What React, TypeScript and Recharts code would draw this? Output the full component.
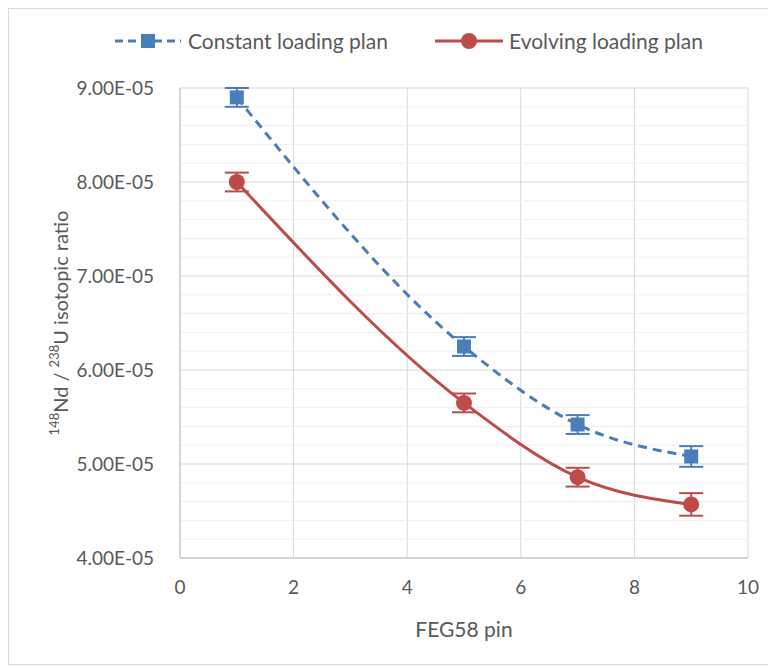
import React from 'react';
import {
  ComposedChart,
  Line,
  XAxis,
  YAxis,
  CartesianGrid,
  ErrorBar,
  ReferenceLine,
} from 'recharts';

const pins = [1, 5, 7, 9];
const constantPlan = [8.9e-5, 6.25e-5, 5.42e-5, 5.08e-5];
const constantErr = [1.0e-6, 1.0e-6, 1.0e-6, 1.1e-6];
const evolvingPlan = [8.0e-5, 5.65e-5, 4.86e-5, 4.57e-5];
const evolvingErr = [1.0e-6, 1.0e-6, 1.0e-6, 1.2e-6];

const xTicks = [0, 2, 4, 6, 8, 10];
const yTicks = [4e-5, 5e-5, 6e-5, 7e-5, 8e-5, 9e-5];
const yMinor = [
  4.2e-5, 4.4e-5, 4.6e-5, 4.8e-5,
  5.2e-5, 5.4e-5, 5.6e-5, 5.8e-5,
  6.2e-5, 6.4e-5, 6.6e-5, 6.8e-5,
  7.2e-5, 7.4e-5, 7.6e-5, 7.8e-5,
  8.2e-5, 8.4e-5, 8.6e-5, 8.8e-5,
];

const BLUE = '#4a7ebb';
const RED = '#be4b48';
const FONT = 'Lato, "Open Sans", sans-serif';
const TEXT = '#595959';

const data = pins.map((x, i) => ({
  x,
  constant: constantPlan[i],
  constantErr: constantErr[i],
  evolving: evolvingPlan[i],
  evolvingErr: evolvingErr[i],
}));

const fmtSci = (v: number) => {
  const [m, e] = v.toExponential(2).split('e');
  const n = parseInt(e, 10);
  return `${m}E${n < 0 ? '-' : '+'}${String(Math.abs(n)).padStart(2, '0')}`;
};

const SquareDot = (props: any) => {
  const { cx, cy, index } = props;
  if (cx == null || cy == null) return null;
  return <rect key={`sq-${index}`} x={cx - 7} y={cy - 7} width={14} height={14} fill={BLUE} />;
};

const CircleDot = (props: any) => {
  const { cx, cy, index } = props;
  if (cx == null || cy == null) return null;
  return <circle key={`ci-${index}`} cx={cx} cy={cy} r={8} fill={RED} />;
};

const YLabel = (props: any) => {
  const { viewBox } = props;
  const cx = 54;
  const cy = viewBox ? viewBox.y + viewBox.height / 2 : 323;
  return (
    <text
      x={cx}
      y={cy}
      transform={`rotate(-90 ${cx} ${cy})`}
      textAnchor="middle"
      dominantBaseline="middle"
      fill={TEXT}
      fontSize={20}
      fontFamily={FONT}
    >
      <tspan fontSize={13} dy={-7}>148</tspan>
      <tspan dy={7}>Nd / </tspan>
      <tspan fontSize={13} dy={-7}>238</tspan>
      <tspan dy={7}>U isotopic ratio</tspan>
    </text>
  );
};

const LegendBar = () => (
  <div
    style={{
      position: 'absolute',
      top: 19,
      left: 104,
      display: 'flex',
      alignItems: 'center',
      fontFamily: FONT,
      fontSize: 21,
      color: TEXT,
    }}
  >
    <svg width={70} height={20} style={{ marginRight: 5 }}>
      <line x1={2} y1={10} x2={68} y2={10} stroke={BLUE} strokeWidth={3} strokeDasharray="8 5" />
      <rect x={28} y={3} width={14} height={14} fill={BLUE} />
    </svg>
    <span style={{ marginRight: 46 }}>Constant loading plan</span>
    <svg width={70} height={20} style={{ marginRight: 5 }}>
      <line x1={1} y1={10} x2={69} y2={10} stroke={RED} strokeWidth={3} />
      <circle cx={35} cy={10} r={8} fill={RED} />
    </svg>
    <span>Evolving loading plan</span>
  </div>
);

export default function App() {
  return (
    <div
      style={{
        position: 'relative',
        width: 760,
        height: 655,
        border: '1px solid #d9d9d9',
        background: '#fff',
      }}
    >
      <LegendBar />
      <ComposedChart
        width={760}
        height={655}
        data={data}
        margin={{ top: 79, right: 21, bottom: 16, left: 0 }}
      >
        <CartesianGrid stroke="#d9d9d9" />
        {yMinor.map((v) => (
          <ReferenceLine key={v} y={v} stroke="#efefef" strokeWidth={1} />
        ))}
        <XAxis
          dataKey="x"
          type="number"
          domain={[0, 10]}
          ticks={xTicks}
          tickLine={false}
          axisLine={{ stroke: '#bfbfbf' }}
          tick={{ fill: TEXT, fontSize: 19, fontFamily: FONT }}
          tickMargin={17}
          height={90}
          label={{
            value: 'FEG58 pin',
            position: 'insideBottom',
            offset: 11,
            fill: TEXT,
            fontSize: 21,
            fontFamily: FONT,
          }}
        />
        <YAxis
          type="number"
          domain={[4e-5, 9e-5]}
          ticks={yTicks}
          tickFormatter={fmtSci}
          tickLine={false}
          axisLine={{ stroke: '#bfbfbf' }}
          tick={{ fill: TEXT, fontSize: 19, fontFamily: FONT }}
          tickMargin={20}
          width={171}
          label={<YLabel />}
        />
        <Line
          dataKey="constant"
          type="monotone"
          stroke={BLUE}
          strokeWidth={3}
          strokeDasharray="9 6"
          dot={SquareDot}
          activeDot={false}
          isAnimationActive={false}
        >
          <ErrorBar dataKey="constantErr" width={12} stroke={BLUE} strokeWidth={2} direction="y" />
        </Line>
        <Line
          dataKey="evolving"
          type="monotone"
          stroke={RED}
          strokeWidth={3}
          dot={CircleDot}
          activeDot={false}
          isAnimationActive={false}
        >
          <ErrorBar dataKey="evolvingErr" width={12} stroke={RED} strokeWidth={2} direction="y" />
        </Line>
      </ComposedChart>
    </div>
  );
}
